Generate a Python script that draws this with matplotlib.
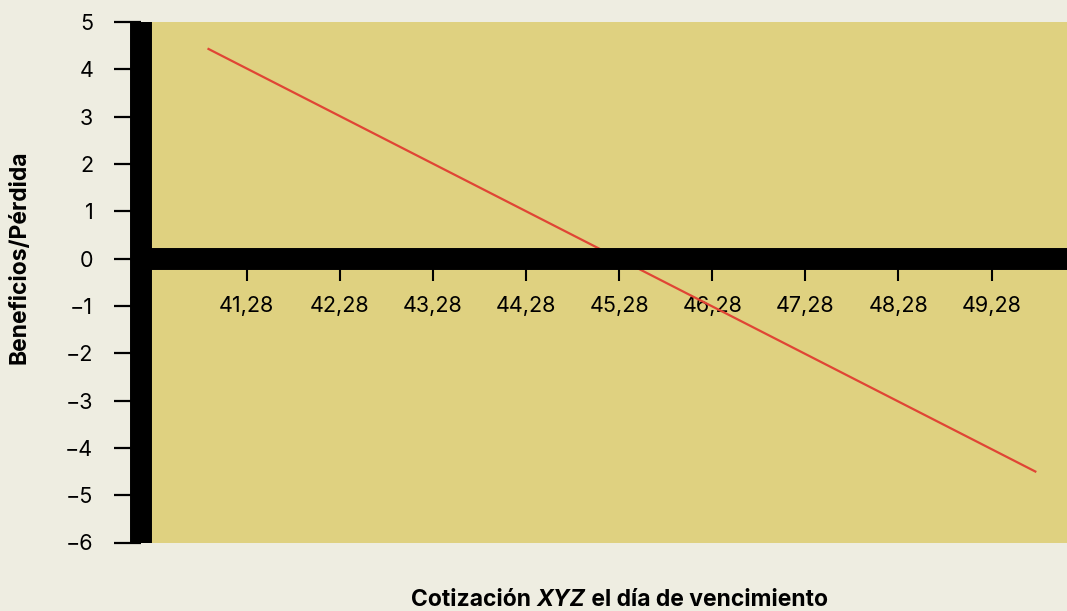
import matplotlib.pyplot as plt

# Données
cotizacion = [40.87, 49.75]
beneficio = [4.43, -4.5]
xticks = [41.28, 42.28, 43.28, 44.28, 45.28, 46.28, 47.28, 48.28, 49.28]
xtick_labels = ['41,28', '42,28', '43,28', '44,28', '45,28', '46,28', '47,28', '48,28', '49,28']
yticks = [5, 4, 3, 2, 1, 0, -1, -2, -3, -4, -5, -6]
ytick_labels = ['5', '4', '3', '2', '1', '0', '−1', '−2', '−3', '−4', '−5', '−6']

fond = '#EEEDE1'
kaki = '#DFD180'
rouge = '#E04535'

plt.rcParams['font.family'] = ['Inter', 'DejaVu Sans']

fig = plt.figure(figsize=(10.67, 6.11), dpi=100, facecolor=fond)
ax = fig.add_axes([141 / 1067, (611 - 542.5) / 611, 1 - 141 / 1067, (542.5 - 22) / 611])
ax.set_facecolor(kaki)

ax.plot(cotizacion, beneficio, color=rouge, lw=1.6, zorder=3)

ax.set_xlim(40.145, 50.09)
ax.set_ylim(-6, 5)

for s in ['top', 'right']:
    ax.spines[s].set_visible(False)
ax.spines['left'].set_linewidth(15.8)
ax.spines['left'].set_capstyle('butt')
ax.spines['bottom'].set_position(('data', 0))
ax.spines['bottom'].set_linewidth(15.8)
ax.spines['bottom'].set_capstyle('butt')
ax.spines['bottom'].set_zorder(4)

ax.set_xticks(xticks)
ax.set_xticklabels(xtick_labels)
ax.set_yticks(yticks)
ax.set_yticklabels(ytick_labels)
ax.tick_params(axis='x', length=15.8, width=1.5, pad=11, labelsize=15.5, direction='out')
ax.tick_params(axis='y', length=19.4, width=1.6, pad=15, labelsize=15.5, direction='out')

# Titres des axes
fig.text(20 / 1067, 1 - 257 / 611, 'Beneficios/Pérdida', rotation=90, fontsize=16.5,
         fontweight='bold', ha='center', va='center')

pieces = [('Cotización ', 'normal'), ('XYZ', 'italic'), (' el día de vencimiento', 'normal')]
textes = [fig.text(0, 1 - 600 / 611, t, fontsize=16.5, fontweight='bold', style=st, va='center')
          for t, st in pieces]
fig.canvas.draw()
r = fig.canvas.get_renderer()
larg = [t.get_window_extent(r).width for t in textes]
x0 = 619.5 - sum(larg) / 2
for t, w in zip(textes, larg):
    t.set_x(x0 / 1067)
    x0 += w

plt.savefig('out.png', dpi=100, facecolor=fond)
